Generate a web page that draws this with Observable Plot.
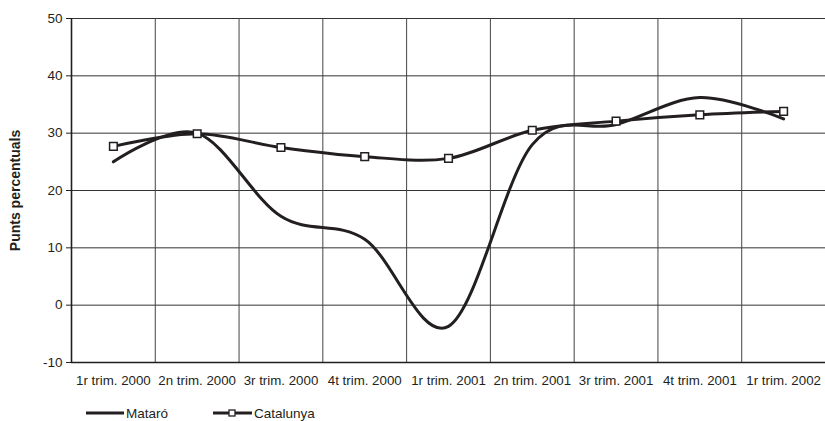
<!DOCTYPE html>
<html>
<head>
<meta charset="utf-8">
<script src="https://cdn.jsdelivr.net/npm/d3@7"></script>
<script src="https://cdn.jsdelivr.net/npm/@observablehq/plot@0.6"></script>
<style>
  html, body { margin: 0; padding: 0; background: #fff; }
  body { width: 825px; height: 421px; overflow: hidden; font-family: "Liberation Sans", Arial, Helvetica, sans-serif; color: #231f20; }
  #legend { position: relative; height: 20px; margin-top: 8px; font-size: 13.5px; }
  .item { position: absolute; top: 0; display: flex; align-items: center; height: 20px; }
  .item svg { margin-right: 2px; }
</style>
</head>
<body>
<div id="chart"></div>
<div id="legend"></div>
<script>
const categories = ["1r trim. 2000", "2n trim. 2000", "3r trim. 2000", "4t trim. 2000", "1r trim. 2001", "2n trim. 2001", "3r trim. 2001", "4t trim. 2001", "1r trim. 2002"];
const mataro = [25.0, 30.0, 15.5, 11.5, -3.7, 28.0, 31.5, 36.2, 32.5];
const catalunya = [27.7, 29.9, 27.5, 25.9, 25.6, 30.5, 32.1, 33.2, 33.8];
const yTicks = [-10, 0, 10, 20, 30, 40, 50];
const seriesNames = ["Mataró", "Catalunya"];

const ink = "#231f20";
const mData = mataro.map((v, i) => ({i, v}));
const cData = catalunya.map((v, i) => ({i, v}));
const boundaries = categories.slice(1).map((_, i) => i + 0.5);
const curve = d3.curveCatmullRom.alpha(0);

const chart = Plot.plot({
  width: 825,
  height: 395,
  marginLeft: 71,
  marginRight: 0,
  marginTop: 18,
  marginBottom: 33,
  style: {fontFamily: '"Liberation Sans", Arial, Helvetica, sans-serif', fontSize: "13.3px", color: ink, background: "#fff"},
  x: {type: "linear", domain: [-0.5, categories.length - 0.5]},
  y: {domain: [-10, 50]},
  marks: [
    Plot.ruleY(yTicks.slice(1), {stroke: "#333", strokeWidth: 1, strokeOpacity: 1}),
    Plot.ruleX(boundaries, {stroke: "#444", strokeWidth: 1, strokeOpacity: 1}),
    Plot.ruleY([-10], {stroke: ink, strokeWidth: 1.6}),
    Plot.ruleX([-0.5], {stroke: ink, strokeWidth: 1.6}),
    Plot.axisY({ticks: yTicks, tickSize: 5, tickPadding: 4, tickFormat: d => String(d), label: null, fontSize: 13.5, stroke: ink}),
    Plot.axisX({ticks: d3.range(categories.length), tickSize: 0, tickPadding: 13, tickFormat: i => categories[i], label: null, fontSize: 13.3}),
    Plot.text(["Punts percentuals"], {frameAnchor: "left", textAnchor: "middle", rotate: -90, dx: -56, fontWeight: "bold", fontSize: 14, fill: ink}),
    Plot.line(mData, {x: "i", y: "v", curve, stroke: ink, strokeWidth: 3}),
    Plot.line(cData, {x: "i", y: "v", curve, stroke: ink, strokeWidth: 3}),
    Plot.dot(cData, {x: "i", y: "v", symbol: "square", r: 4.3, fill: "#fff", stroke: ink, strokeWidth: 1.5})
  ]
});
document.getElementById("chart").appendChild(chart);

const legend = document.getElementById("legend");
legend.innerHTML = `
  <div class="item" style="left:86px">
    <svg width="38" height="10"><line x1="0" x2="38" y1="5" y2="5" stroke="${ink}" stroke-width="3"/></svg>
    <span>${seriesNames[0]}</span>
  </div>
  <div class="item" style="left:213px">
    <svg width="39" height="10"><line x1="0" x2="39" y1="5" y2="5" stroke="${ink}" stroke-width="3"/><rect x="16" y="2" width="6" height="6" fill="#fff" stroke="${ink}" stroke-width="1.3"/></svg>
    <span>${seriesNames[1]}</span>
  </div>`;
</script>
</body>
</html>
